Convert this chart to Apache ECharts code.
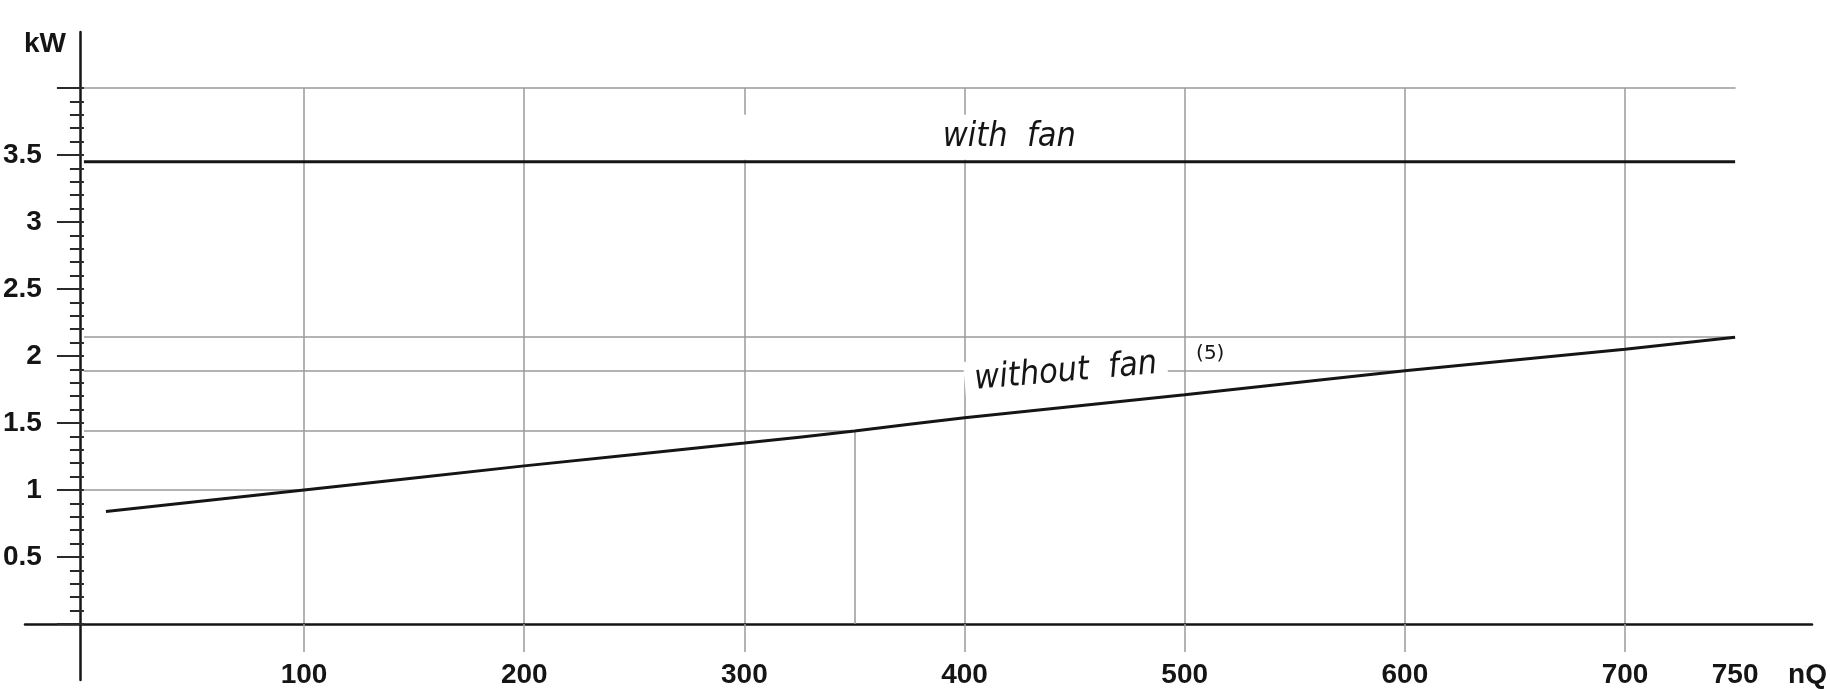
<!DOCTYPE html>
<html>
<head>
<meta charset="utf-8">
<title>kW over nQ</title>
<script src="https://cdn.jsdelivr.net/npm/echarts@6/dist/echarts.min.js"></script>
<style>
  html, body { margin: 0; padding: 0; background: #fff; }
  #chart { width: 1830px; height: 689px; }
</style>
</head>
<body>
<div id="chart"></div>
<script>
// without fan curve
const nQ = [10, 100, 200, 300, 350, 400, 500, 600, 700, 750];
const kWNoFan = [0.84, 1.0, 1.18, 1.35, 1.44, 1.54, 1.71, 1.89, 2.05, 2.14];
// with fan is flat
const nQFan = [0, 750];
const kWFan = [3.45, 3.45];
// reading lines back to the kW axis, and the drop line down to nQ
const readAt = [100, 350, 600, 750];
const dropAt = [350];
const xTicks = [100, 200, 300, 400, 500, 600, 700];
const xLabels = [100, 200, 300, 400, 500, 600, 700, 750];
const yLabels = [0.5, 1, 1.5, 2, 2.5, 3, 3.5];

const kWAt = x => kWNoFan[nQ.indexOf(x)];

const W = 1830, H = 689;
const plot = { left: 80, right: 90.5, top: 88, bottom: 65 };
const xMax = 750, yMax = 4;
const pxX = (W - plot.left - plot.right) / xMax;
const pxY = (H - plot.top - plot.bottom) / yMax;
// the two long axis lines run past the plot box
const outer = { left: 25, right: 18, top: 32, bottom: 9 };

const grey = '#9a9a9a';
const ink = '#151515';
const numFont = { fontFamily: '"Liberation Sans", Arial, sans-serif', fontSize: 28, fontWeight: 'bold', color: ink };
const noteFont = { fontFamily: '"DejaVu Sans Condensed", "DejaVu Sans", sans-serif', fontStyle: 'italic', fontSize: 34, color: ink };
const hidden = { axisTick: { show: false }, axisLabel: { show: false }, splitLine: { show: false } };

const chart = echarts.init(document.getElementById('chart'));
chart.setOption({
  animation: false,
  backgroundColor: '#fff',
  grid: [
    { left: plot.left, right: plot.right, top: plot.top, bottom: plot.bottom },
    { left: outer.left, right: outer.right, top: outer.top, bottom: outer.bottom }
  ],
  xAxis: [
    {
      gridIndex: 0, type: 'value', min: 0, max: xMax, interval: 100,
      axisLine: { show: false },
      axisTick: { show: true, customValues: xTicks, length: 28, lineStyle: { color: grey, width: 1.5 } },
      axisLabel: { customValues: xLabels, margin: 37, ...numFont },
      splitLine: { show: true, lineStyle: { color: grey, width: 1.5 } },
      name: 'nQ', nameLocation: 'end', nameGap: 53,
      nameTextStyle: { ...numFont, align: 'left', verticalAlign: 'top', padding: [37, 0, 0, 0] }
    },
    {
      gridIndex: 0, type: 'value', position: 'top', min: 0, max: xMax,
      axisLine: { show: true, onZero: false, lineStyle: { color: grey, width: 1.5 } },
      ...hidden
    },
    {
      gridIndex: 1, type: 'value',
      min: -(plot.left - outer.left) / pxX,
      max: xMax + (plot.right - outer.right) / pxX,
      axisLine: { show: true, lineStyle: { color: ink, width: 2.5 } },
      ...hidden
    }
  ],
  yAxis: [
    {
      gridIndex: 0, type: 'value', min: 0, max: yMax, interval: 0.5,
      axisLine: { show: false },
      axisTick: { show: true, length: 27, lineStyle: { color: '#2a2a2a', width: 2 } },
      minorTick: { show: true, splitNumber: 5, length: 14, lineStyle: { color: '#2a2a2a', width: 2 } },
      axisLabel: { margin: 42, ...numFont, formatter: v => (yLabels.includes(v) ? String(v) : '') },
      splitLine: { show: false },
      name: 'kW', nameLocation: 'end', nameGap: 44,
      nameTextStyle: { ...numFont, align: 'right', verticalAlign: 'middle', padding: [0, 18, 0, 0] }
    },
    {
      gridIndex: 1, type: 'value',
      min: -(plot.bottom - outer.bottom) / pxY,
      max: yMax + (plot.top - outer.top) / pxY,
      axisLine: { show: true, lineStyle: { color: ink, width: 2.5 } },
      ...hidden
    }
  ],
  series: [
    {
      name: 'with fan', type: 'line', xAxisIndex: 0, yAxisIndex: 0,
      data: nQFan.map((x, i) => [x, kWFan[i]]),
      symbol: 'none', lineStyle: { color: ink, width: 3 }, z: 3,
      markPoint: {
        z: 10, silent: true, symbol: 'circle', symbolSize: 1,
        itemStyle: { color: 'rgba(0,0,0,0)' },
        data: [{
          name: 'with  fan', coord: [456, kWFan[0]],
          label: {
            show: true, position: 'inside', align: 'right', verticalAlign: 'bottom', offset: [0, -2],
            formatter: '{b}', backgroundColor: '#fff', padding: [5, 12, 6, 223], ...noteFont
          }
        }]
      }
    },
    {
      name: 'without fan', type: 'line', xAxisIndex: 0, yAxisIndex: 0,
      data: nQ.map((x, i) => [x, kWNoFan[i]]),
      smooth: 0.2, symbol: 'none', lineStyle: { color: ink, width: 3 }, z: 3,
      markLine: {
        silent: true, z: 1, symbol: ['none', 'none'], label: { show: false },
        lineStyle: { color: grey, width: 1.5, type: 'solid' },
        data: [
          ...readAt.map(x => [{ coord: [0, kWAt(x)] }, { coord: [x, kWAt(x)] }]),
          ...dropAt.map(x => [{ coord: [x, 0] }, { coord: [x, kWAt(x)] }])
        ]
      },
      markPoint: {
        z: 10, silent: true, symbol: 'circle', symbolSize: 1,
        itemStyle: { color: 'rgba(0,0,0,0)' },
        data: [
          {
            name: 'without  fan', coord: [446, 1.88],
            label: {
              show: true, position: 'inside', rotate: 5, formatter: '{b}',
              backgroundColor: '#fff', padding: [2, 10, 2, 10], ...noteFont
            }
          },
          {
            name: '(5)', coord: [511.6, 2.02],
            label: {
              show: true, position: 'inside', formatter: '{b}',
              fontFamily: '"DejaVu Sans", sans-serif', fontSize: 20, color: ink
            }
          }
        ]
      }
    }
  ]
});
</script>
</body>
</html>
